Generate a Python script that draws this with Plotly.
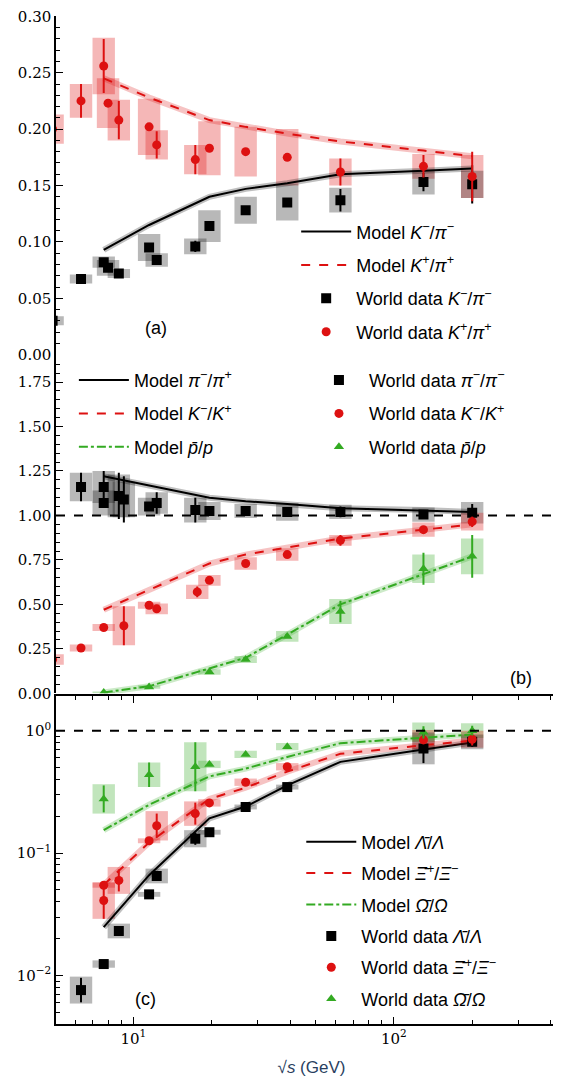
import numpy as np
import plotly.graph_objects as go

# ---------- panel (a): K/pi ----------
a_x = [4.9, 6.3, 7.7, 8.0, 8.8, 11.5, 12.3, 17.3, 19.6, 27, 39, 62.4, 130, 200]
a_kp_y = [0.200, 0.225, 0.256, 0.223, 0.208, 0.202, 0.186, 0.173, 0.183, 0.180, 0.175, 0.162, 0.167, 0.158]
a_kp_err = [0, 0.015, 0.024, 0, 0.017, 0, 0.012, 0.013, 0, 0, 0, 0.012, 0.010, 0.022]
a_kp_sys = [0.013, 0.015, 0.025, 0.022, 0.018, 0.025, 0.013, 0.013, 0.024, 0.022, 0.025, 0.012, 0.011, 0.019]
a_km_y = [0.030, 0.067, 0.082, 0.077, 0.072, 0.095, 0.084, 0.096, 0.114, 0.128, 0.135, 0.137, 0.153, 0.151]
a_km_err = [0, 0, 0, 0, 0, 0, 0.003, 0.005, 0, 0, 0, 0.010, 0.008, 0.017]
a_km_sys = [0.004, 0.004, 0.005, 0.007, 0.004, 0.012, 0.006, 0.007, 0.014, 0.012, 0.016, 0.011, 0.011, 0.012]
a_ticks = [0.0, 0.05, 0.10, 0.15, 0.20, 0.25, 0.30]

model_x = [7.7, 11.5, 19.6, 27, 39, 62.4, 130, 200]
a_model_km = [0.093, 0.115, 0.140, 0.147, 0.152, 0.160, 0.163, 0.165]
a_model_kp = [0.245, 0.228, 0.208, 0.202, 0.196, 0.189, 0.181, 0.176]

# ---------- panel (b): anti-particle / particle ----------
b_pi_x = [6.3, 7.7, 7.7, 8.8, 9.2, 11.5, 12.3, 17.3, 19.6, 27, 39, 62.4, 130, 200]
b_pi_y = [1.16, 1.16, 1.07, 1.11, 1.09, 1.05, 1.07, 1.03, 1.025, 1.025, 1.02, 1.02, 1.005, 1.015]
b_pi_err = [0.08, 0.09, 0, 0.13, 0.13, 0, 0.06, 0.07, 0, 0, 0, 0.03, 0.02, 0.05]
b_pi_sys = [0.08, 0.09, 0.07, 0.12, 0.10, 0.05, 0.06, 0.07, 0.05, 0.04, 0.05, 0.04, 0.04, 0.06]
b_k_x = [4.9, 6.3, 7.7, 9.2, 11.5, 12.3, 17.6, 19.6, 27, 39, 62.4, 130, 200]
b_k_y = [0.19, 0.255, 0.37, 0.38, 0.495, 0.475, 0.57, 0.635, 0.73, 0.78, 0.86, 0.92, 0.965]
b_k_err = [0, 0, 0, 0.11, 0, 0, 0.03, 0, 0, 0, 0.03, 0.02, 0.03]
b_k_sys = [0.03, 0.02, 0.02, 0.11, 0.02, 0.03, 0.04, 0.03, 0.035, 0.035, 0.03, 0.04, 0.05]
b_p_x = [7.7, 11.5, 19.6, 27, 39, 62.4, 130, 200]
b_p_y = [0.005, 0.035, 0.12, 0.19, 0.32, 0.46, 0.70, 0.77]
b_p_err = [0, 0, 0, 0, 0, 0.06, 0.09, 0.12]
b_p_sys = [0.005, 0.01, 0.015, 0.02, 0.03, 0.07, 0.08, 0.10]
b_model_pi = [1.22, 1.17, 1.10, 1.08, 1.065, 1.04, 1.03, 1.02]
b_model_k = [0.47, 0.58, 0.73, 0.78, 0.82, 0.87, 0.92, 0.95]
b_model_p = [0.005, 0.04, 0.14, 0.20, 0.33, 0.50, 0.67, 0.77]

# ---------- panel (c): hyperons (errors in decades) ----------
c_l_x = [6.3, 7.7, 8.8, 11.5, 12.3, 17.3, 19.6, 27, 39, 130, 200]
c_l_y = [0.0076, 0.0124, 0.0231, 0.046, 0.065, 0.131, 0.148, 0.238, 0.346, 0.716, 0.81]
c_l_err = [0.10, 0, 0.04, 0, 0.04, 0.05, 0, 0, 0, 0.12, 0.04]
c_l_sys = [0.11, 0.03, 0.06, 0.02, 0.06, 0.07, 0.02, 0.02, 0.02, 0.13, 0.06]
c_x_x = [7.7, 7.7, 8.8, 11.5, 12.3, 17.3, 19.6, 27, 39, 130, 200]
c_x_y = [0.0546, 0.041, 0.0598, 0.126, 0.167, 0.21, 0.257, 0.379, 0.507, 0.84, 0.85]
c_x_err = [0, 0.15, 0.09, 0, 0.10, 0.09, 0, 0, 0, 0, 0.05]
c_x_sys = [0.02, 0.15, 0.11, 0.02, 0.12, 0.10, 0.03, 0.03, 0.03, 0.08, 0.07]
c_o_x = [7.7, 11.5, 17.3, 19.6, 27, 39, 130, 200]
c_o_y = [0.277, 0.436, 0.507, 0.53, 0.64, 0.74, 0.97, 1.0]
c_o_err = [0.11, 0.10, 0.20, 0, 0, 0, 0.05, 0.04]
c_o_sys = [0.12, 0.10, 0.20, 0.03, 0.03, 0.03, 0.08, 0.06]
c_model_l = [0.0248, 0.066, 0.192, 0.24, 0.357, 0.556, 0.70, 0.80]
c_model_x = [0.055, 0.122, 0.277, 0.342, 0.463, 0.647, 0.76, 0.83]
c_model_o = [0.154, 0.248, 0.423, 0.49, 0.61, 0.79, 0.875, 0.93]

BLACK, RED, GREEN = "#000000", "#dd1111", "#33aa22"
FILL = {BLACK: "rgba(0,0,0,0.28)", RED: "rgba(221,17,17,0.30)", GREEN: "rgba(51,170,34,0.30)"}
BAND = {BLACK: "rgba(0,0,0,0.25)", RED: "rgba(221,17,17,0.25)", GREEN: "rgba(51,170,34,0.25)"}
HW = 10 ** 0.043  # half width of systematic boxes (factor in sqrt(s))

fig = go.Figure()
shapes = []


def boxes(x, lo, hi, color, yref):
    for xi, l, h in zip(x, lo, hi):
        shapes.append(dict(type="rect", xref="x", yref=yref, x0=xi / HW, x1=xi * HW,
                           y0=l, y1=h, fillcolor=FILL[color], line_width=0, layer="below"))


def data(x, y, err_up, err_dn, color, symbol, name, ya, legend):
    fig.add_trace(go.Scatter(
        x=x, y=y, mode="markers", name=name, yaxis=ya, legend=legend, legendgroup=name,
        marker=dict(color=color, symbol=symbol, size=10 if symbol == "square" else 9),
        error_y=dict(type="data", symmetric=False, array=err_up, arrayminus=err_dn,
                     color=color, thickness=2, width=0)))


def model(y, color, dash, name, ya, legend):
    fig.add_trace(go.Scatter(x=model_x, y=y, mode="lines", yaxis=ya, showlegend=False,
                             line=dict(color=BAND[color], width=6), hoverinfo="skip"))
    fig.add_trace(go.Scatter(x=model_x, y=y, mode="lines", name=name, yaxis=ya, legend=legend,
                             legendgroup=name, line=dict(color=color, width=2, dash=dash)))


def lin(y, s):
    y, s = np.array(y), np.array(s)
    return y - s, y + s


# panel (a)
boxes(a_x, *lin(a_kp_y, a_kp_sys), RED, "y")
boxes(a_x, *lin(a_km_y, a_km_sys), BLACK, "y")
model(a_model_km, BLACK, "solid", "Model <i>K</i><sup>−</sup>/<i>π</i><sup>−</sup>", "y", "legend")
model(a_model_kp, RED, "dash", "Model <i>K</i><sup>+</sup>/<i>π</i><sup>+</sup>", "y", "legend")
data(a_x, a_km_y, a_km_err, a_km_err, BLACK, "square", "World data <i>K</i><sup>−</sup>/<i>π</i><sup>−</sup>", "y", "legend")
data(a_x, a_kp_y, a_kp_err, a_kp_err, RED, "circle", "World data <i>K</i><sup>+</sup>/<i>π</i><sup>+</sup>", "y", "legend")

# panel (b)
boxes(b_pi_x, *lin(b_pi_y, b_pi_sys), BLACK, "y2")
boxes(b_k_x, *lin(b_k_y, b_k_sys), RED, "y2")
boxes(b_p_x, *lin(b_p_y, b_p_sys), GREEN, "y2")
model(b_model_pi, BLACK, "solid", "Model <i>π</i><sup>−</sup>/<i>π</i><sup>+</sup>", "y2", "legend2")
model(b_model_k, RED, "dash", "Model <i>K</i><sup>−</sup>/<i>K</i><sup>+</sup>", "y2", "legend2")
model(b_model_p, GREEN, "dashdot", "Model <i>p̄</i>/<i>p</i>", "y2", "legend2")
data(b_pi_x, b_pi_y, b_pi_err, b_pi_err, BLACK, "square", "World data <i>π</i><sup>−</sup>/<i>π</i><sup>−</sup>", "y2", "legend3")
data(b_k_x, b_k_y, b_k_err, b_k_err, RED, "circle", "World data <i>K</i><sup>−</sup>/<i>K</i><sup>+</sup>", "y2", "legend3")
data(b_p_x, b_p_y, b_p_err, b_p_err, GREEN, "triangle-up", "World data <i>p̄</i>/<i>p</i>", "y2", "legend3")


# panel (c)
def logbox(y, s):
    y, s = np.array(y), np.array(s)
    return y / 10 ** s, y * 10 ** s


def logerr(y, e):
    y, e = np.array(y), np.array(e)
    return y * (10 ** e - 1), y * (1 - 10 ** -e)


boxes(c_o_x, *logbox(c_o_y, c_o_sys), GREEN, "y3")
boxes(c_x_x, *logbox(c_x_y, c_x_sys), RED, "y3")
boxes(c_l_x, *logbox(c_l_y, c_l_sys), BLACK, "y3")
model(c_model_l, BLACK, "solid", "Model <i>Λ̄</i>/<i>Λ</i>", "y3", "legend4")
model(c_model_x, RED, "dash", "Model <i>Ξ̄</i><sup>+</sup>/<i>Ξ</i><sup>−</sup>", "y3", "legend4")
model(c_model_o, GREEN, "dashdot", "Model <i>Ω̄</i>/<i>Ω</i>", "y3", "legend4")
data(c_l_x, c_l_y, *logerr(c_l_y, c_l_err), BLACK, "square", "World data <i>Λ̄</i>/<i>Λ</i>", "y3", "legend4")
data(c_x_x, c_x_y, *logerr(c_x_y, c_x_err), RED, "circle", "World data <i>Ξ̄</i><sup>+</sup>/<i>Ξ</i><sup>−</sup>", "y3", "legend4")
data(c_o_x, c_o_y, *logerr(c_o_y, c_o_err), GREEN, "triangle-up", "World data <i>Ω̄</i>/<i>Ω</i>", "y3", "legend4")

for yr in ["y2", "y3"]:
    shapes.append(dict(type="line", xref="x domain", yref=yr, x0=0, x1=1, y0=1, y1=1,
                       line=dict(color="black", width=2, dash="dash")))

SERIF = "DejaVu Serif"
SANS = "Liberation Sans"
axis = dict(showline=True, linecolor="black", linewidth=1.5, mirror="ticks", ticks="inside",
            ticklen=7, tickcolor="black", showgrid=False, zeroline=False,
            ticklabeloverflow="allow",
            tickfont=dict(family=SERIF, size=15, color="black"))
legfont = dict(family=SANS, size=18, color="black")
leg = dict(font=legfont, bgcolor="rgba(0,0,0,0)", itemwidth=50, tracegroupgap=7)

fig.update_layout(
    width=561, height=1092, plot_bgcolor="white", paper_bgcolor="white",
    margin=dict(l=48, r=0, t=0, b=67), shapes=shapes,
    xaxis=dict(axis, type="log", range=[np.log10(5.05), 2.665], anchor="y3",
               tickvals=[10, 100], ticktext=["10<sup>1</sup>", "10<sup>2</sup>"],
               minor=dict(ticks="inside", ticklen=4, tickcolor="black",
                          tickvals=[6, 7, 8, 9, 20, 30, 40, 50, 60, 70, 80, 90, 200, 300, 400]),
               title=dict(text="√<i>s</i> (GeV)", font=dict(family=SANS, size=17))),
    yaxis=dict(axis, domain=[0.667, 1], range=[0, 0.3003], tickvals=a_ticks, tickformat=".2f",
               minor=dict(ticks="inside", ticklen=4, dtick=0.01, tickcolor="black")),
    yaxis2=dict(axis, domain=[0.334, 0.667], range=[0, 1.904], dtick=0.25, tickformat=".2f",
                minor=dict(ticks="inside", ticklen=4, dtick=0.05, tickcolor="black")),
    yaxis3=dict(axis, domain=[0.009, 0.331], type="log", range=[-2.395, 0.28],
                tickvals=[0.01, 0.1, 1], ticktext=["10<sup>−2</sup>", "10<sup>−1</sup>", "10<sup>0</sup>"],
                minor=dict(ticks="inside", ticklen=4, tickcolor="black",
                           tickvals=[0.005, 0.006, 0.007, 0.008, 0.009, 0.02, 0.03, 0.04, 0.05,
                                     0.06, 0.07, 0.08, 0.09, 0.2, 0.3, 0.4, 0.5, 0.6, 0.7, 0.8, 0.9])),
    legend=dict(leg, x=0.47, y=0.806, xanchor="left", yanchor="top"),
    legend2=dict(leg, x=0.035, y=0.66, xanchor="left", yanchor="top"),
    legend3=dict(leg, x=0.495, y=0.66, xanchor="left", yanchor="top"),
    legend4=dict(leg, x=0.48, y=0.206, xanchor="left", yanchor="top", tracegroupgap=5),
    annotations=[
        dict(text="(a)", xref="paper", yref="paper", x=0.17, y=0.705, showarrow=False, font=legfont),
        dict(text="(b)", xref="paper", yref="paper", x=0.935, y=0.349, showarrow=False, font=legfont),
        dict(text="(c)", xref="paper", yref="paper", x=0.15, y=0.022, yanchor="bottom", showarrow=False, font=legfont),
    ],
)

fig.write_html("out.html")
